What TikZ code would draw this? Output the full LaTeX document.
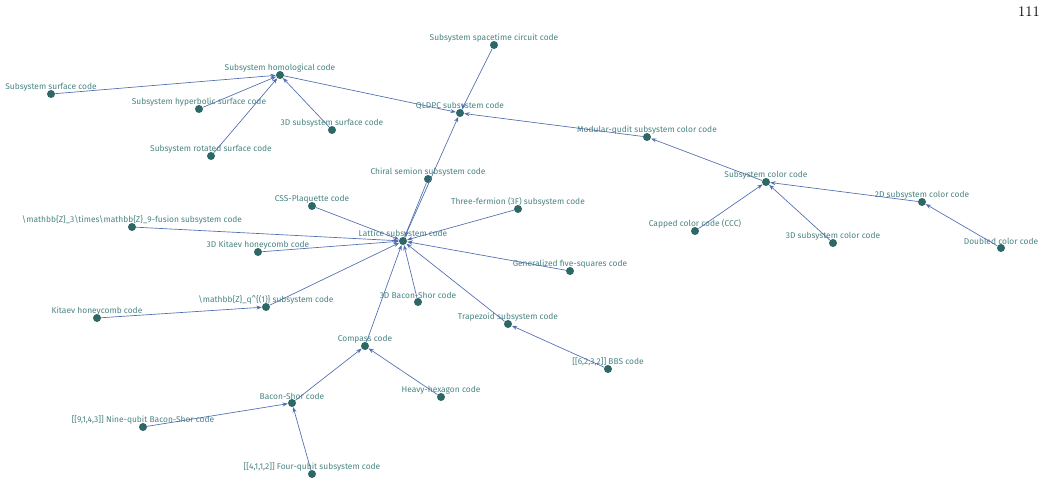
\documentclass[tikz,border=0pt]{standalone}
\usepackage{fontspec}
\setsansfont{Fira Sans}
\usetikzlibrary{arrows.meta}
\definecolor{dotteal}{HTML}{2D6766}
\definecolor{labelteal}{HTML}{4A8482}
\definecolor{edgeblue}{HTML}{4F6EAF}

\begin{document}
\begin{tikzpicture}[x=0.75pt, y=-0.75pt, font=\sffamily, >={Stealth[length=4pt, width=3pt]}]
  % Styles
  \tikzstyle{codedot} = [circle, fill=dotteal, inner sep=0pt, minimum size=6pt]
  \tikzstyle{codelabel} = [text=labelteal, font=\sffamily\fontsize{6.3}{7}\selectfont,
    inner sep=1pt, yshift=-2.2pt]
  \tikzstyle{parentedge} = [->, draw=edgeblue, line width=0.5pt]

  \useasboundingbox (0,0) rectangle (1046,492);
  \node[anchor=north east, inner sep=0pt, font=\fontsize{11}{12}\selectfont] (pagenum) at (1040,6) {111};

  % Homological branch
  \node[codedot, label={[codelabel]above:Subsystem homological code}] (homological) at (280,75) {};
  \node[codedot, label={[codelabel]above:Subsystem surface code}] (surface) at (51,94) {};
  \node[codedot, label={[codelabel]above:Subsystem hyperbolic surface code}] (hyperbolic) at (199,109) {};
  \node[codedot, label={[codelabel]above:3D subsystem surface code}] (surface3d) at (332,130) {};
  \node[codedot, label={[codelabel]above:Subsystem rotated surface code}] (rotated) at (211,156) {};

  % QLDPC and color code branch
  \node[codedot, label={[codelabel]above:QLDPC subsystem code}] (qldpc) at (460,113) {};
  \node[codedot, label={[codelabel]above:Subsystem spacetime circuit code}] (spacetime) at (494,45) {};
  \node[codedot, label={[codelabel]above:Modular-qudit subsystem color code}] (modqudit) at (647,137) {};
  \node[codedot, label={[codelabel]above:Subsystem color code}] (color) at (766,182) {};
  \node[codedot, label={[codelabel]above:2D subsystem color code}] (color2d) at (922,202) {};
  \node[codedot, label={[codelabel]above:Capped color code (CCC)}] (capped) at (695,231) {};
  \node[codedot, label={[codelabel]above:3D subsystem color code}] (color3d) at (833,243) {};
  \node[codedot, label={[codelabel]above:Doubled color code}] (doubled) at (1001,248) {};

  % Lattice branch
  \node[codedot, label={[codelabel]above:Lattice subsystem code}] (lattice) at (403,241) {};
  \node[codedot, label={[codelabel]above:Chiral semion subsystem code}] (semion) at (428,179) {};
  \node[codedot, label={[codelabel]above:Three-fermion (3F) subsystem code}] (threefermion) at (518,209) {};
  \node[codedot, label={[codelabel]above:CSS-Plaquette code}] (plaquette) at (312,206) {};
  \node[codedot, label={[codelabel]above:\textbackslash mathbb\{Z\}\_3\textbackslash times\textbackslash mathbb\{Z\}\_9-fusion subsystem code}] (fusion) at (132,227) {};
  \node[codedot, label={[codelabel]above:3D Kitaev honeycomb code}] (kitaev3d) at (258,252) {};
  \node[codedot, label={[codelabel]above:Generalized five-squares code}] (fivesquares) at (570,271) {};
  \node[codedot, label={[codelabel]above:3D Bacon-Shor code}] (baconshor3d) at (418,302) {};
  \node[codedot, label={[codelabel]above:\textbackslash mathbb\{Z\}\_q\textasciicircum\{(1)\} subsystem code}] (zqone) at (266,307) {};
  \node[codedot, label={[codelabel]above:Kitaev honeycomb code}] (kitaev) at (97,318) {};
  \node[codedot, label={[codelabel]above:Trapezoid subsystem code}] (trapezoid) at (508,324) {};
  \node[codedot, label={[codelabel]above:[[6,2,3,2]] BBS code}] (bbs) at (608,369) {};

  % Compass / Bacon-Shor branch
  \node[codedot, label={[codelabel]above:Compass code}] (compass) at (365,346) {};
  \node[codedot, label={[codelabel]above:Heavy-hexagon code}] (heavyhex) at (441,397) {};
  \node[codedot, label={[codelabel]above:Bacon-Shor code}] (baconshor) at (292,403) {};
  \node[codedot, label={[codelabel]above:[[9,1,4,3]] Nine-qubit Bacon-Shor code}] (ninequbit) at (143,427) {};
  \node[codedot, label={[codelabel]above:[[4,1,1,2]] Four-qubit subsystem code}] (fourqubit) at (312,474) {};

  % Child -> parent edges
  \draw[parentedge] (surface) -- (homological);
  \draw[parentedge] (hyperbolic) -- (homological);
  \draw[parentedge] (rotated) -- (homological);
  \draw[parentedge] (surface3d) -- (homological);
  \draw[parentedge] (homological) -- (qldpc);
  \draw[parentedge] (spacetime) -- (qldpc);
  \draw[parentedge] (modqudit) -- (qldpc);
  \draw[parentedge] (lattice) -- (qldpc);
  \draw[parentedge] (color) -- (modqudit);
  \draw[parentedge] (color2d) -- (color);
  \draw[parentedge] (capped) -- (color);
  \draw[parentedge] (color3d) -- (color);
  \draw[parentedge] (doubled) -- (color2d);

  \draw[parentedge] (semion) -- (lattice);
  \draw[parentedge] (threefermion) -- (lattice);
  \draw[parentedge] (plaquette) -- (lattice);
  \draw[parentedge] (fusion) -- (lattice);
  \draw[parentedge] (kitaev3d) -- (lattice);
  \draw[parentedge] (fivesquares) -- (lattice);
  \draw[parentedge] (baconshor3d) -- (lattice);
  \draw[parentedge] (zqone) -- (lattice);
  \draw[parentedge] (kitaev) -- (zqone);
  \draw[parentedge] (trapezoid) -- (lattice);
  \draw[parentedge] (bbs) -- (trapezoid);
  \draw[parentedge] (compass) -- (lattice);
  \draw[parentedge] (heavyhex) -- (compass);
  \draw[parentedge] (baconshor) -- (compass);
  \draw[parentedge] (ninequbit) -- (baconshor);
  \draw[parentedge] (fourqubit) -- (baconshor);

\end{tikzpicture}
\end{document}
